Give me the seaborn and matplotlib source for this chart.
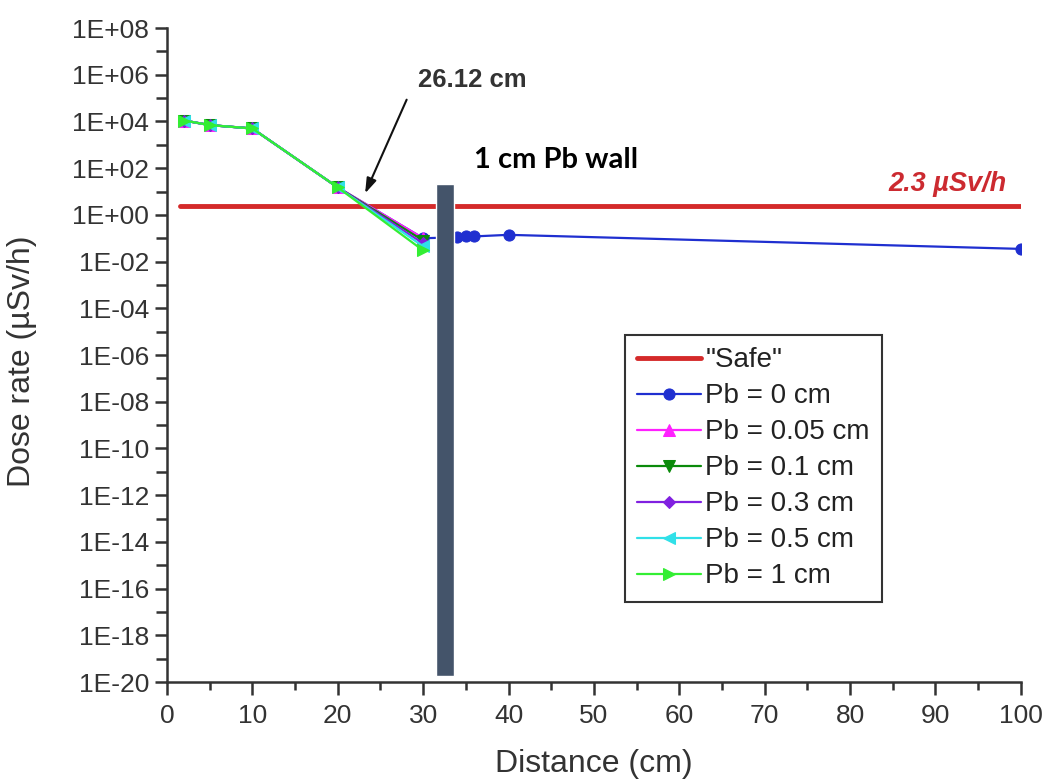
import numpy as np
import pandas as pd
import matplotlib
matplotlib.use('Agg')
import matplotlib.pyplot as plt
import matplotlib.ticker as mticker
import seaborn as sns

# distance (cm) and dose rate (uSv/h)
dist_near = [2, 5, 10, 20, 30]
dist_pb0 = [2, 5, 10, 20, 30, 34, 35, 36, 40, 100]
dose_pb0 = [1.1e4, 7.0e3, 5.0e3, 15, 0.1, 0.11, 0.12, 0.12, 0.14, 0.035]
dose_pb005 = [1.1e4, 7.0e3, 5.0e3, 15, 0.1]
dose_pb01 = [1.1e4, 7.0e3, 5.0e3, 15, 0.08]
dose_pb03 = [1.1e4, 7.0e3, 5.0e3, 15, 0.06]
dose_pb05 = [1.1e4, 7.0e3, 5.0e3, 15, 0.045]
dose_pb1 = [1.1e4, 7.0e3, 5.0e3, 15, 0.03]

safe_x = [1.5, 100]
safe_level = 2.3

wall_center = 32.6
wall_width = 2.1
wall_bottom = 1.8e-20
wall_top = 22

series = [
    ('Pb = 0 cm', dist_pb0, dose_pb0, '#1f2fd0', 'o', 8),
    ('Pb = 0.05 cm', dist_near, dose_pb005, '#ff20ff', '^', 8),
    ('Pb = 0.1 cm', dist_near, dose_pb01, '#0a8a0a', 'v', 8),
    ('Pb = 0.3 cm', dist_near, dose_pb03, '#8020e0', 'D', 6),
    ('Pb = 0.5 cm', dist_near, dose_pb05, '#30e0e8', '<', 8),
    ('Pb = 1 cm', dist_near, dose_pb1, '#33ee33', '>', 9),
]

sns.set_style('ticks')
plt.rcParams['font.family'] = ['Liberation Sans', 'DejaVu Sans']

fig, ax = plt.subplots(figsize=(10.47, 7.79), dpi=100)
fig.subplots_adjust(left=0.1595, right=0.975, bottom=0.1245, top=0.964)

ax.set_yscale('log')

sns.lineplot(x=safe_x, y=[safe_level] * len(safe_x), ax=ax, color='#d42a2a',
             linewidth=3.5, label='"Safe"')
for name, xs, ys, col, mk, ms in series:
    sns.lineplot(x=xs, y=ys, ax=ax, color=col, marker=mk, markersize=ms,
                 markeredgecolor=col, linewidth=1.6, label=name)

ax.bar(wall_center, wall_top - wall_bottom, bottom=wall_bottom, width=wall_width,
       color='#44546a', zorder=5)

ax.set_xlim(0, 100)
ax.set_ylim(1e-20, 1e8)
ax.xaxis.set_major_locator(mticker.MultipleLocator(10))
ax.xaxis.set_minor_locator(mticker.MultipleLocator(5))
ax.yaxis.set_major_locator(mticker.FixedLocator([10.0 ** e for e in range(-20, 9, 2)]))
ax.yaxis.set_minor_locator(mticker.FixedLocator([10.0 ** e for e in range(-19, 8, 2)]))


def sci(v, pos):
    e = int(round(np.log10(v)))
    return '1E%s%02d' % ('+' if e >= 0 else '-', abs(e))


ax.yaxis.set_major_formatter(mticker.FuncFormatter(sci))
ax.yaxis.set_minor_formatter(mticker.NullFormatter())

ax.tick_params(axis='both', which='major', labelsize=19, width=1.8, color='#333333',
               labelcolor='#333333')
ax.tick_params(axis='x', which='major', length=9, pad=7)
ax.tick_params(axis='x', which='minor', length=5.5, width=1.8, color='#333333')
ax.tick_params(axis='y', which='major', length=9, pad=4)
ax.tick_params(axis='y', which='minor', length=8, width=1.8, color='#333333')
sns.despine(ax=ax)
for s in ['left', 'bottom']:
    ax.spines[s].set_linewidth(1.8)
    ax.spines[s].set_color('#333333')

ax.set_xlabel('Distance (cm)', fontsize=23, color='#333333', va='top')
ax.set_ylabel('Dose rate (µSv/h)', fontsize=23, color='#333333')
ax.xaxis.set_label_coords(0.5, -0.102)
ax.yaxis.set_label_coords(-0.152, 0.49)

ax.annotate('', xy=(23.07, 6.5), xytext=(28.2, 1.1e5),
            arrowprops=dict(arrowstyle='-|>,head_length=0.9,head_width=0.3',
                            color='#111111', lw=1.5))
ax.text(29.4, 5.9e5, '26.12 cm', fontsize=18.5, fontweight='bold', color='#333333',
        ha='left', va='center')
ax.text(35.9, 224, '1 cm Pb wall', fontsize=21, fontweight='bold', color='black',
        ha='left', va='center', family=['Lato', 'DejaVu Sans'])
ax.text(98.4, 21, '2.3 µSv/h', fontsize=19.5, fontweight='bold', fontstyle='italic',
        color='#cc2a30', ha='right', va='center')

leg = ax.legend(loc='upper left', bbox_to_anchor=(0.536, 0.531), fontsize=20,
                frameon=True, fancybox=False, edgecolor='#333333', framealpha=1,
                handlelength=2.3, handletextpad=0.15, labelspacing=0.36,
                borderpad=0.45, borderaxespad=0)
leg.get_frame().set_linewidth(1.5)
for t in leg.get_texts():
    t.set_color('#222222')

fig.savefig('out.png', dpi=100)
